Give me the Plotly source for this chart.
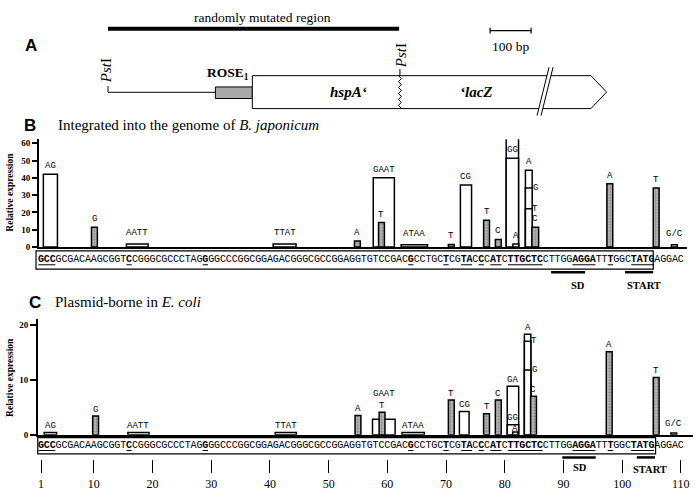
import plotly.graph_objects as go

W, H = 696, 496

# ------------------------------------------------------------------ data
sequence = ("GCCGCGACAAGCGGTCCGGGCGCCCTAGGGGCCCGGCGGAGACGGGCGCCGGAGGTGTCCGAC"
            "GCCTGCTCGTACCCATCTTGCTCCTTGGAGGATTTGGCTATGAGGAC")
bold_runs = [(1, 3), (16, 16), (29, 29), (64, 64), (70, 70), (73, 74), (76, 76),
             (78, 79), (81, 86), (92, 95), (98, 98), (102, 105)]
ruler_ticks = [1, 10, 20, 30, 40, 50, 60, 70, 80, 90, 100, 110]
B_yticks = [0, 10, 20, 30, 40, 50, 60]
C_yticks = [0, 10, 20]

# panel B : integrated into the genome of B. japonicum
B_pos = [2.6, 10.1, 17.4, 42.5, 54.9, 59.4, 59.0, 64.6, 70.9, 73.4, 76.9, 78.9,
         81.3, 81.3, 81.9, 84.1, 84.1, 84.1, 85.2, 97.9, 105.8, 108.9]
B_span = [2.4, 1.0, 3.7, 3.9, 1.0, 3.6, 1.0, 4.5, 1.0, 1.9, 1.0, 1.0,
          2.1, 2.1, 1.0, 1.15, 1.15, 1.15, 1.15, 1.0, 1.0, 1.0]
B_value = [42.1, 11.4, 1.7, 1.8, 3.4, 40.0, 14.1, 1.3, 1.5, 35.8, 15.4, 4.4,
           63.8, 51.3, 1.7, 44.4, 34.1, 22.1, 11.4, 36.6, 34.1, 1.3]
B_kind = ["open", "shaded", "open", "open", "shaded", "open", "shaded", "open",
          "shaded", "open", "shaded", "shaded", "open", "open", "open", "open",
          "open", "open", "shaded", "shaded", "shaded", "open"]
B_label = ["AG", "G", "AATT", "TTAT", "A", "GAAT", "T", "ATAA", "T", "CG", "T", "C",
           "GA", "GG", "A", "A", "G", "T", "C", "A", "T", "G/C"]
B_label_side = [0] * 16 + [1, 1] + [0] * 4

# panel C : plasmid-borne in E. coli
C_pos = [2.6, 10.3, 17.6, 42.7, 55.0, 59.4, 59.1, 64.4, 70.9, 73.1, 76.9, 78.9,
         81.4, 81.4, 81.8, 83.9, 83.9, 83.9, 84.9, 97.8, 105.8, 108.8]
C_span = [2.1, 1.0, 3.6, 3.6, 1.0, 3.85, 1.0, 3.8, 1.0, 1.65, 1.0, 1.0,
          1.95, 1.95, 0.9, 1.1, 1.1, 1.1, 1.0, 1.0, 1.0, 1.0]
C_value = [0.4, 3.4, 0.4, 0.4, 3.5, 2.8, 4.1, 0.4, 6.3, 4.2, 3.8, 6.3,
           8.8, 1.8, 0.5, 18.3, 17.0, 11.8, 7.0, 15.1, 10.4, 0.3]
C_kind = ["open", "shaded", "open", "open", "shaded", "open", "shaded", "open",
          "shaded", "open", "shaded", "shaded", "open", "open", "open", "open",
          "open", "open", "shaded", "shaded", "shaded", "open"]
C_label = ["AG", "G", "AATT", "TTAT", "A", "GAAT", "T", "ATAA", "T", "CG", "T", "C",
           "GA", "GG", "A", "A", "T", "G", "C", "A", "T", "G/C"]
C_label_side = [0] * 16 + [1, 1] + [0] * 4

# panel A : construct map (bp from the first PstI site)
A_mutated = (0, 710)
A_pst = [0, 712]
A_rose = (262, 352)
A_gene = (352, 1178, 1216)   # start, body end, tip
A_break = 1066
A_scale = (932, 1032)

# ------------------------------------------------------------------ geometry helpers
X0, S = 41.0, 5.87          # px of base 1, px per base
A_ORIGIN, BP_PX = 108.0, 0.41


def p_of_px(px):
    return 1 + (px - X0) / S


def seqx(p):                 # sequence position -> paper x
    return (X0 + (p - 1) * S) / W


def ax_px(bp):
    return A_ORIGIN + bp * BP_PX


def PX(px):
    return px / W


def PY(py):
    return 1 - py / H


SERIF = "Liberation Serif"
SANS = "Liberation Sans"
MONO = "Liberation Mono"

fig = go.Figure()
shapes = []
annots = []


def line(x0, y0, x1, y1, w=1.0, color="black"):
    shapes.append(dict(type="line", xref="paper", yref="paper", x0=x0, y0=y0,
                       x1=x1, y1=y1, line=dict(color=color, width=w)))


def text(x, y, t, size, family=SERIF, angle=0, xanchor="center", xref="paper",
         yref="paper", yshift=0, xshift=0):
    annots.append(dict(x=x, y=y, xref=xref, yref=yref, text=t, showarrow=False,
                       xanchor=xanchor, yanchor="middle", textangle=angle,
                       yshift=yshift, xshift=xshift,
                       font=dict(family=family, size=size, color="black")))


# ------------------------------------------------------------------ bars
def add_bars(pos, span, val, kind, xa, ya):
    o = sorted([i for i, k in enumerate(kind) if k == "open"], key=lambda i: -val[i])
    s = [i for i, k in enumerate(kind) if k == "shaded"]
    fig.add_trace(go.Bar(x=[pos[i] for i in o], y=[val[i] for i in o],
                         width=[span[i] for i in o], xaxis=xa, yaxis=ya,
                         marker=dict(color="white", line=dict(color="black", width=1.5)),
                         showlegend=False, hoverinfo="skip"))
    fig.add_trace(go.Bar(x=[pos[i] for i in s], y=[val[i] for i in s],
                         width=[span[i] for i in s], xaxis=xa, yaxis=ya,
                         marker=dict(color="#b4b4b4", line=dict(color="black", width=1.5),
                                     pattern=dict(shape=".", fgcolor="#555555",
                                                  bgcolor="#b4b4b4", size=3, solidity=0.3)),
                         showlegend=False, hoverinfo="skip"))


add_bars(B_pos, B_span, B_value, B_kind, "x", "y")
add_bars(C_pos, C_span, C_value, C_kind, "x3", "y3")


def add_labels(pos, span, val, lab, side, xa, ya, default_dy, overrides):
    for i in range(len(pos)):
        if side[i]:
            text(pos[i] + span[i] / 2 + 0.55, val[i], lab[i], 9, MONO, xref=xa, yref=ya)
        else:
            dy = overrides.get(i, default_dy)
            text(pos[i], val[i], lab[i], 9, MONO, xref=xa, yref=ya, yshift=dy)


B_over = {i: 11 for i in range(len(B_value)) if B_value[i] < 2 and len(B_label[i]) > 1}
add_labels(B_pos, B_span, B_value, B_label, B_label_side, "x", "y", 8, B_over)
C_over = {5: 25, 14: 3, 21: 9}
add_labels(C_pos, C_span, C_value, C_label, C_label_side, "x3", "y3", 6.5, C_over)

# ------------------------------------------------------------------ sequence rows
bold_set = set()
for a, b in bold_runs:
    bold_set.update(range(a, b + 1))
seq_text = [("<b>%s</b>" % ch) if (i + 1) in bold_set else ch for i, ch in enumerate(sequence)]
seq_x = list(range(1, len(sequence) + 1))

for row_y in (262, 450):
    fig.add_trace(go.Scatter(x=seq_x, y=[row_y] * len(sequence), mode="text",
                             text=seq_text, textposition="middle center",
                             textfont=dict(family=MONO, size=10, color="black"),
                             xaxis="x2", yaxis="y2", cliponaxis=False,
                             showlegend=False, hoverinfo="skip"))

for (bx0, bx1, by0, by1, uy) in [(0.15, 105.3, 253, 271.5, 267.0),
                                 (0.45, 105.7, 442, 458.5, 455.0)]:
    shapes.append(dict(type="rect", xref="paper", yref="paper", x0=seqx(bx0), x1=seqx(bx1),
                       y0=PY(by1), y1=PY(by0), line=dict(color="black", width=1.2)))
    for a, b in bold_runs:
        line(seqx(a - 0.45), PY(uy), seqx(b + 0.45), PY(uy), 1.0)

# SD / START markers
for (sd0, sd1, st0, st1, yb, sdl, stl, ly_sd, ly_st) in [
        (87.9, 93.7, 100.5, 105.3, 274.5, 92.5, 103.7, 287.5, 287.5),
        (89.8, 95.5, 102.5, 105.6, 462.0, 92.8, 104.7, 472.0, 474.0)]:
    line(seqx(sd0), PY(yb), seqx(sd1), PY(yb), 2.5)
    line(seqx(st0), PY(yb), seqx(st1), PY(yb), 2.5)
    text(seqx(sdl), PY(ly_sd), "<b>SD</b>", 10.5)
    text(seqx(stl), PY(ly_st), "<b>START</b>", 10.5)

# ruler dummy trace
fig.add_trace(go.Scatter(x=[50], y=[0.5], mode="markers", marker=dict(opacity=0),
                         xaxis="x5", yaxis="y5", showlegend=False, hoverinfo="skip"))

# ------------------------------------------------------------------ panel titles
text(PX(30), PY(126), "<b>B</b>", 17, SANS)
text(PX(56), PY(126), "Integrated into the genome of <i>B. japonicum</i>", 15, SERIF,
     xanchor="left")
text(PX(35), PY(305), "<b>C</b>", 17, SANS)
text(PX(53), PY(305), "Plasmid-borne in <i>E. coli</i>", 15, SERIF, xanchor="left")
text(PX(10), PY(194), "<b>Relative expression</b>", 9.5, SERIF, angle=-90)
text(PX(10.5), PY(381), "<b>Relative expression</b>", 9.5, SERIF, angle=-90)

# ------------------------------------------------------------------ panel A
def axp(bp):
    return PX(ax_px(bp))


text(PX(31), PY(45), "<b>A</b>", 17, SANS)
line(axp(A_mutated[0]), PY(28), axp(A_mutated[1]), PY(28), 4)
text(axp(378), PY(17), "randomly mutated region", 13.5)
# scale bar
line(axp(A_scale[0]), PY(30), axp(A_scale[1]), PY(30), 1.2)
line(axp(A_scale[0]), PY(27), axp(A_scale[0]), PY(33), 1.2)
line(axp(A_scale[1]), PY(27), axp(A_scale[1]), PY(33), 1.2)
text(axp((A_scale[0] + A_scale[1]) / 2), PY(46.5), "100 bp", 13.5)
# left PstI + flanking line
line(axp(A_pst[0]), PY(86), axp(A_pst[0]), PY(92.4), 1)
line(axp(A_pst[0]), PY(92.4), axp(A_rose[0]), PY(92.4), 1)
text(PX(ax_px(A_pst[0]) - 2), PY(71), "<i>Pst</i>I", 15, angle=-90)
# ROSE box
shapes.append(dict(type="rect", xref="paper", yref="paper", x0=axp(A_rose[0]), x1=axp(A_rose[1]),
                   y0=PY(98.7), y1=PY(87), fillcolor="#a9a9a9",
                   line=dict(color="black", width=1)))
text(axp((A_rose[0] + A_rose[1]) / 2 - 14), PY(73), "<b>ROSE<sub>1</sub></b>", 13.5)
# gene arrow
g0, g1, gt = A_gene
path = "M %f %f L %f %f L %f %f L %f %f L %f %f Z" % (
    axp(g0), PY(75.6), axp(g1), PY(75.6), axp(gt), PY(92.2), axp(g1), PY(108.9),
    axp(g0), PY(108.9))
shapes.append(dict(type="path", xref="paper", yref="paper", path=path,
                   fillcolor="white", line=dict(color="black", width=1)))
# fusion junction (wavy) at second PstI
xj = ax_px(A_pst[1])
pts = []
yy = 75.6
k = 0
while yy <= 108.9:
    pts.append((xj + (1.4 if k % 2 else -1.4), yy))
    yy += 3.0
    k += 1
wpath = "M " + " L ".join("%f %f" % (PX(x), PY(y)) for x, y in pts)
shapes.append(dict(type="path", xref="paper", yref="paper", path=wpath,
                   line=dict(color="black", width=1)))
line(PX(xj), PY(69), PX(xj), PY(75.6), 1)
text(PX(xj + 1), PY(55), "<i>Pst</i>I", 15, angle=-90)
text(PX(349), PY(92), "<b><i>hspA‘</i></b>", 15)
text(PX(476), PY(92), "<b><i>‘lacZ</i></b>", 15)
# break symbol
c = ax_px(A_break)
brk = "M %f %f L %f %f L %f %f L %f %f Z" % (PX(c - 8), PY(116), PX(c + 4), PY(67),
                                            PX(c + 8), PY(67), PX(c - 4), PY(116))
shapes.append(dict(type="path", xref="paper", yref="paper", path=brk,
                   fillcolor="white", line=dict(width=0)))
line(PX(c - 8), PY(116), PX(c + 4), PY(67), 1)
line(PX(c - 4), PY(116), PX(c + 8), PY(67), 1)

# ------------------------------------------------------------------ layout
noax = dict(visible=False, showgrid=False, zeroline=False)
fig.update_layout(
    width=W, height=H, margin=dict(l=0, r=0, t=0, b=0),
    paper_bgcolor="white", plot_bgcolor="rgba(0,0,0,0)",
    barmode="overlay", showlegend=False,
    xaxis=dict(domain=[PX(39), PX(687)], range=[p_of_px(39), p_of_px(687)], anchor="y",
               showline=True, linewidth=2, linecolor="black", ticks="",
               showticklabels=False, showgrid=False, zeroline=False, fixedrange=True),
    yaxis=dict(domain=[PY(249), PY(140)], range=[0, 109 / 1.75], anchor="x",
               showline=True, linewidth=2, linecolor="black", ticks="outside",
               ticklen=5, tickwidth=1.5, tickcolor="black",
               tickvals=B_yticks, ticktext=["<b>%d</b>" % v for v in B_yticks],
               tickfont=dict(family=SERIF, size=9, color="black"),
               showgrid=False, zeroline=False),
    xaxis3=dict(domain=[PX(38), PX(693)], range=[p_of_px(38), p_of_px(693)], anchor="y3",
                showline=True, linewidth=2, linecolor="black", ticks="",
                showticklabels=False, showgrid=False, zeroline=False),
    yaxis3=dict(domain=[PY(439), PY(321.7)], range=[0, 117.3 / 5.56], anchor="x3",
                showline=True, linewidth=2, linecolor="black", ticks="outside",
                ticklen=6, tickwidth=1.5, tickcolor="black",
                tickvals=C_yticks, ticktext=["<b>%d</b>" % v for v in C_yticks],
                tickfont=dict(family=SERIF, size=9, color="black"),
                showgrid=False, zeroline=False),
    xaxis2=dict(domain=[0, 1], range=[p_of_px(0), p_of_px(W)], anchor="y2", **noax),
    yaxis2=dict(domain=[0, 1], range=[H, 0], anchor="x2", **noax),
    xaxis5=dict(domain=[0, 1], range=[p_of_px(0), p_of_px(W)], anchor="y5",
                showline=False, showgrid=False, zeroline=False, ticks="outside",
                ticklen=13, tickwidth=1, tickcolor="black", tickvals=ruler_ticks,
                ticktext=[str(v) for v in ruler_ticks],
                tickfont=dict(family=SERIF, size=12, color="black")),
    yaxis5=dict(domain=[PY(464), PY(463)], range=[0, 1], anchor="x5", **noax),
    shapes=shapes, annotations=annots,
)

fig.write_html("out.html", config={"displayModeBar": False},
               post_script="document.body.style.margin='0';"
                           "document.body.style.overflow='hidden';")
